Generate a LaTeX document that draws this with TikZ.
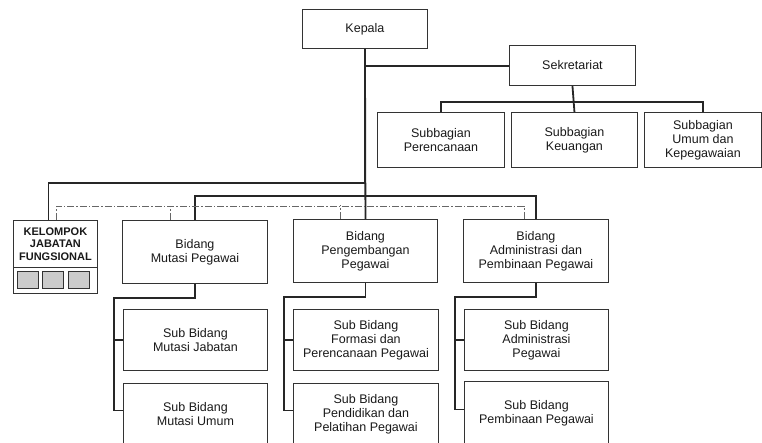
\documentclass[tikz,border=0pt]{standalone}
\usepackage{fontspec}
\setmainfont{Liberation Sans}
\begin{document}
\begin{tikzpicture}[x=1pt,y=-1pt,
        unit/.style={draw=black!80, line width=0.9pt, inner sep=0pt, anchor=north west,
            align=center, text=black!90, font=\fontsize{12.5}{14}\selectfont},
        link/.style={line width=1.8pt, black!85},
        staff/.style={line width=0.8pt, black!60, dash pattern=on 7pt off 2pt on 1.5pt off 2pt}]
        \useasboundingbox (0,0) rectangle (762,443);
        \clip (0,0) rectangle (762,443);

        \node[unit, minimum width=125pt, minimum height=39pt] (kepala) at (302,9) {Kepala};
        \node[unit, minimum width=126pt, minimum height=40pt] (sekre) at (509,45) {Sekretariat};
        \node[unit, minimum width=127pt, minimum height=55pt] (sub1) at (377,112) {Subbagian\\Perencanaan};
        \node[unit, minimum width=126pt, minimum height=55pt] (sub2) at (511,112) {Subbagian\\Keuangan};
        \node[unit, minimum width=117pt, minimum height=55pt] (sub3) at (644,112) {Subbagian\\Umum dan\\Kepegawaian};

        \node[unit, minimum width=84pt, minimum height=47pt, font=\fontsize{11}{12.5}\selectfont\bfseries] (kjf) at (13,220) {KELOMPOK\\JABATAN\\FUNGSIONAL};
        \node[unit, minimum width=84pt, minimum height=26pt] (kjfb) at (13,267) {};
        \foreach \x in {17,42,68}
            \filldraw[draw=black!80, fill=black!20, line width=0.8pt] (\x,271) rectangle ++(21,17);

        \node[unit, minimum width=145pt, minimum height=63pt] (bid1) at (122,220) {Bidang\\Mutasi Pegawai};
        \node[unit, minimum width=144pt, minimum height=63pt] (bid2) at (293,219) {Bidang\\Pengembangan\\Pegawai};
        \node[unit, minimum width=145pt, minimum height=63pt] (bid3) at (463,219) {Bidang\\Administrasi dan\\Pembinaan Pegawai};

        \node[unit, minimum width=144pt, minimum height=61pt] (sb11) at (123,309) {Sub Bidang\\Mutasi Jabatan};
        \node[unit, minimum width=144pt, minimum height=62pt] (sb12) at (123,383) {Sub Bidang\\Mutasi Umum};
        \node[unit, minimum width=145pt, minimum height=61pt] (sb21) at (293,309) {Sub Bidang\\Formasi dan\\Perencanaan Pegawai};
        \node[unit, minimum width=145pt, minimum height=62pt] (sb22) at (293,383) {Sub Bidang\\Pendidikan dan\\Pelatihan Pegawai};
        \node[unit, minimum width=144pt, minimum height=61pt] (sb31) at (464,309) {Sub Bidang\\Administrasi\\Pegawai};
        \node[unit, minimum width=144pt, minimum height=64pt] (sb32) at (464,381) {Sub Bidang\\Pembinaan Pegawai};

        \draw[link] (kepala.south) -- (bid2.north);
        \draw[link] ([yshift=-0.5pt]kepala.south |- sekre.west) -- ([yshift=-0.5pt]sekre.west);
        \draw[link] (sekre.south) -- (sub2.north);
        \draw[link] (sub1.north) -- ++(0,-10) -| (sub3.north);
        \draw[link] ([xshift=-7pt]kjf.north) -- ++(0,-37) -| (kepala.south);
        \draw[link] (bid1.north) -- ++(0,-24) -| (bid3.north);

        \draw[staff] ([xshift=1pt]kjf.north) -- ++(0,-14) -| ([xshift=-12pt]bid3.north);
        \draw[staff] ([xshift=-25pt]bid1.north) -- ++(0,-14);
        \draw[staff] ([xshift=-25pt]bid2.north) -- ++(0,-14);

        \draw[link] (bid1.south) -- ++(0,14) -| ([xshift=-9pt,yshift=4pt]sb12.west) -- ([yshift=4pt]sb12.west);
        \draw[link] ([xshift=-9pt]sb11.west) -- (sb11.west);
        \draw[link] (bid2.south) -- ++(0,14) -| ([xshift=-9pt,yshift=4pt]sb22.west) -- ([yshift=4pt]sb22.west);
        \draw[link] ([xshift=-9pt]sb21.west) -- (sb21.west);
        \draw[link] (bid3.south) -- ++(0,14) -| ([xshift=-9pt,yshift=4pt]sb32.west) -- ([yshift=4pt]sb32.west);
        \draw[link] ([xshift=-9pt]sb31.west) -- (sb31.west);
    \end{tikzpicture}
\end{document}
